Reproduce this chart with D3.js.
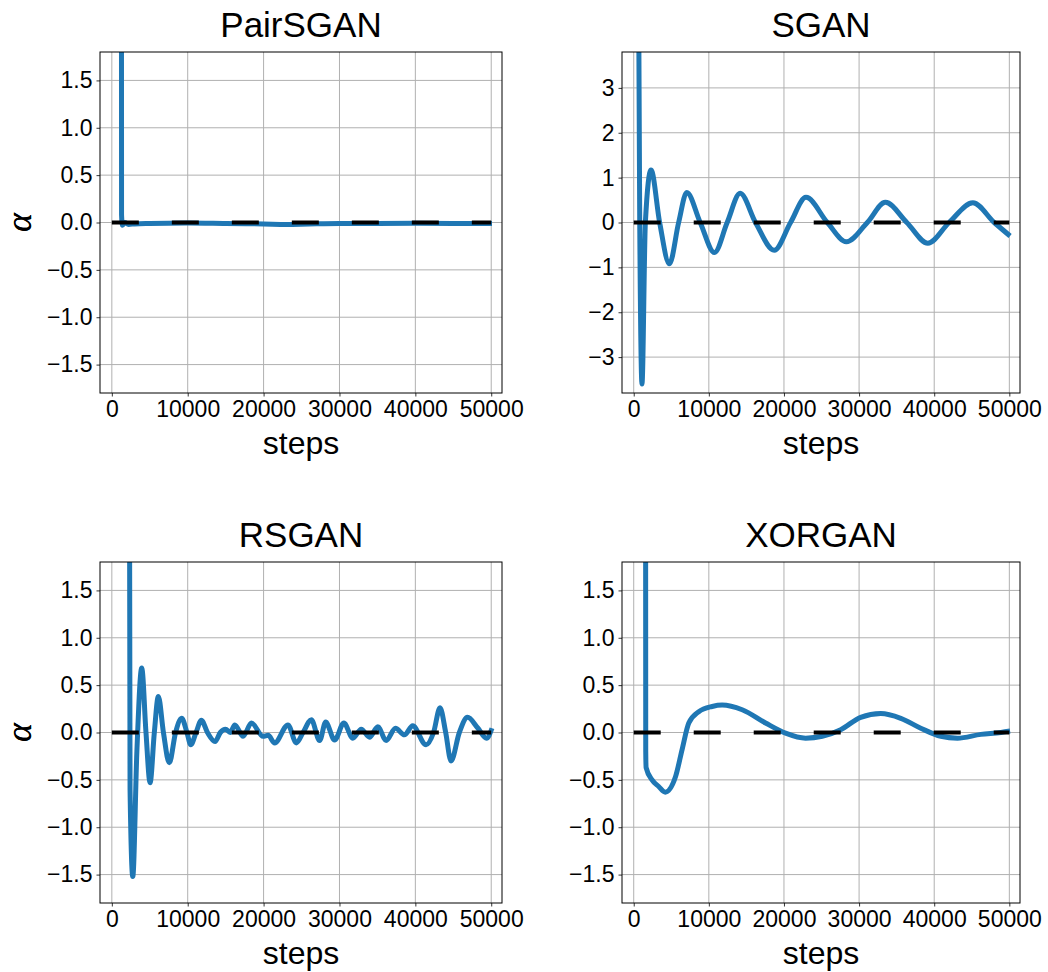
<!DOCTYPE html>
<html>
<head>
<meta charset="utf-8">
<script src="https://cdn.jsdelivr.net/npm/d3@7"></script>
<style>
  body { margin: 0; background: #fff; }
  text { font-family: "Liberation Sans", sans-serif; fill: #000; }
</style>
</head>
<body>
<div id="chart"></div>
<script>
// Tick values
var xTicks = [0, 10000, 20000, 30000, 40000, 50000];
var yTicksSmall = [-1.5, -1.0, -0.5, 0.0, 0.5, 1.0, 1.5];
var yTicksLarge = [-3, -2, -1, 0, 1, 2, 3];

// PairSGAN: alpha vs steps
var pairSteps = [1150, 1280, 1400, 1700, 2200, 3000, 5000, 10000, 15000, 20000, 23000, 26000, 30000, 35000, 40000, 45000, 50100];
var pairAlpha = [25, 0.08, -0.03, 0.0, -0.02, -0.015, -0.01, -0.005, -0.01, -0.015, -0.02, -0.015, -0.01, -0.01, -0.008, -0.01, -0.01];

// SGAN
var sganSteps = [450, 800, 1100, 1550, 2300, 3450, 4750, 5980, 7060, 8850, 10750, 12440, 14170, 16210, 18700, 20880, 22930, 25770, 28300, 31100, 33500, 36350, 39150, 41990, 45150, 47990, 50100];
var sganAlpha = [12, 0, -3.6, 0, 1.17, 0, -0.92, 0, 0.67, 0, -0.67, 0, 0.65, 0, -0.62, 0, 0.56, 0, -0.43, 0, 0.45, 0, -0.46, 0, 0.44, 0, -0.30];

// RSGAN
var rsganSteps = [2050, 2400, 2760, 3300, 3940, 4500, 5040, 5600, 6130, 6800, 7570, 8400, 9200, 9900, 10400, 11100, 11800, 12600, 13600, 14300, 14980, 15600, 16210, 17300, 18400, 19930, 20600, 21460, 23210, 24320, 25200, 26290, 27390, 28180, 29360, 30580, 31760, 32870, 33960, 35050, 36150, 37380, 38560, 39650, 41410, 42400, 43250, 44000, 44700, 45800, 46880, 48200, 49380, 50100];
var rsganAlpha = [15, -0.6, -1.52, -0.2, 0.68, 0, -0.53, 0, 0.38, 0, -0.32, 0, 0.15, 0, -0.13, 0, 0.13, 0, -0.095, 0, 0.035, 0.0, 0.08, -0.04, 0.1, -0.04, -0.03, -0.11, 0.08, -0.11, 0, 0.135, -0.085, 0.11, -0.08, 0.1, -0.06, 0.035, -0.05, 0.06, -0.085, 0.045, -0.025, 0.07, -0.13, 0, 0.26, 0, -0.30, 0, 0.16, 0.05, -0.06, 0.045];

// XORGAN
var xorSteps = [1500, 1600, 1650, 2440, 3320, 4200, 5550, 6440, 7330, 8660, 10440, 11770, 14440, 17550, 20210, 22880, 25100, 27550, 30210, 32880, 35550, 38210, 40880, 43100, 46210, 48880, 50100];
var xorAlpha = [15, -0.2, -0.37, -0.5, -0.57, -0.63, -0.47, -0.18, 0.1, 0.22, 0.275, 0.29, 0.24, 0.1, -0.007, -0.06, -0.04, 0.03, 0.16, 0.2, 0.15, 0.045, -0.04, -0.06, -0.02, 0.0, 0.015];

var xDomain = [-1560, 51420];

var svgWidth = 1048;
var svgHeight = 972;

var svg = d3.select("#chart")
  .append("svg")
  .attr("width", svgWidth)
  .attr("height", svgHeight);

// one entry per subplot: layout in pixels
var panels = [
  {id: "p1", title: "PairSGAN", steps: pairSteps, alpha: pairAlpha, left: 100, right: 502, top: 52, bottom: 393, ymax: 1.8, ticks: yTicksSmall, fmt: d3.format(".1f")},
  {id: "p2", title: "SGAN", steps: sganSteps, alpha: sganAlpha, left: 622, right: 1020, top: 52, bottom: 393, ymax: 3.8, ticks: yTicksLarge, fmt: d3.format("d")},
  {id: "p3", title: "RSGAN", steps: rsganSteps, alpha: rsganAlpha, left: 100, right: 502, top: 562, bottom: 903, ymax: 1.8, ticks: yTicksSmall, fmt: d3.format(".1f")},
  {id: "p4", title: "XORGAN", steps: xorSteps, alpha: xorAlpha, left: 622, right: 1020, top: 562, bottom: 903, ymax: 1.8, ticks: yTicksSmall, fmt: d3.format(".1f")}
];

panels.forEach(function (p) {
  var w = p.right - p.left;
  var h = p.bottom - p.top;

  var x = d3.scaleLinear().domain(xDomain).range([0, w]);
  var y = d3.scaleLinear().domain([-p.ymax, p.ymax]).range([h, 0]);

  var g = svg.append("g")
    .attr("transform", `translate(${p.left}, ${p.top})`);

  g.append("clipPath")
    .attr("id", "clip-" + p.id)
    .append("rect")
    .attr("width", w)
    .attr("height", h);

  // grid lines
  g.append("g")
    .selectAll("line")
    .data(xTicks)
    .enter()
    .append("line")
    .attr("x1", d => x(d)).attr("x2", d => x(d))
    .attr("y1", 0).attr("y2", h)
    .attr("stroke", "#b0b0b0")
    .attr("stroke-width", 1);

  g.append("g")
    .selectAll("line")
    .data(p.ticks)
    .enter()
    .append("line")
    .attr("x1", 0).attr("x2", w)
    .attr("y1", d => y(d)).attr("y2", d => y(d))
    .attr("stroke", "#b0b0b0")
    .attr("stroke-width", 1);

  // data line
  var line = d3.line()
    .x((d, i) => x(p.steps[i]))
    .y(d => y(d))
    .curve(d3.curveMonotoneX);

  g.append("path")
    .datum(p.alpha)
    .attr("clip-path", `url(#clip-${p.id})`)
    .attr("d", line)
    .attr("fill", "none")
    .attr("stroke", "#1f77b4")
    .attr("stroke-width", 5)
    .attr("stroke-linejoin", "round");

  // dashed zero reference
  g.append("line")
    .attr("x1", x(0)).attr("x2", x(50000))
    .attr("y1", y(0)).attr("y2", y(0))
    .attr("stroke", "#000")
    .attr("stroke-width", 4)
    .attr("stroke-dasharray", "27,33");

  // axes
  var bottomAxis = d3.axisBottom(x)
    .tickValues(xTicks)
    .tickFormat(d3.format("d"))
    .tickSizeInner(3.5)
    .tickSizeOuter(0)
    .tickPadding(4);

  var leftAxis = d3.axisLeft(y)
    .tickValues(p.ticks)
    .tickFormat(p.fmt)
    .tickSizeInner(3.5)
    .tickSizeOuter(0)
    .tickPadding(4);

  var xa = g.append("g")
    .attr("transform", `translate(0, ${h})`)
    .call(bottomAxis);
  var ya = g.append("g").call(leftAxis);

  [xa, ya].forEach(function (a) {
    a.select(".domain").remove();
    a.selectAll("line").attr("stroke", "#000").attr("stroke-width", 0.8);
    a.selectAll("text")
      .style("font-family", "Liberation Sans, sans-serif")
      .style("font-size", "23px")
      .attr("fill", "#000");
  });

  // frame
  g.append("rect")
    .attr("width", w)
    .attr("height", h)
    .attr("fill", "none")
    .attr("stroke", "#000")
    .attr("stroke-width", 1);

  // title and labels
  g.append("text")
    .attr("x", w / 2)
    .attr("y", -15)
    .attr("text-anchor", "middle")
    .style("font-size", "35px")
    .text(p.title);

  g.append("text")
    .attr("x", w / 2)
    .attr("y", h + 61)
    .attr("text-anchor", "middle")
    .style("font-size", "32px")
    .text("steps");

  g.append("text")
    .attr("transform", `translate(${-p.left + 23}, ${h / 2}) rotate(-90)`)
    .attr("text-anchor", "middle")
    .attr("dominant-baseline", "middle")
    .style("font-family", "Liberation Serif, serif")
    .style("font-style", "italic")
    .style("font-size", "36px")
    .text("α");
});
</script>
</body>
</html>
